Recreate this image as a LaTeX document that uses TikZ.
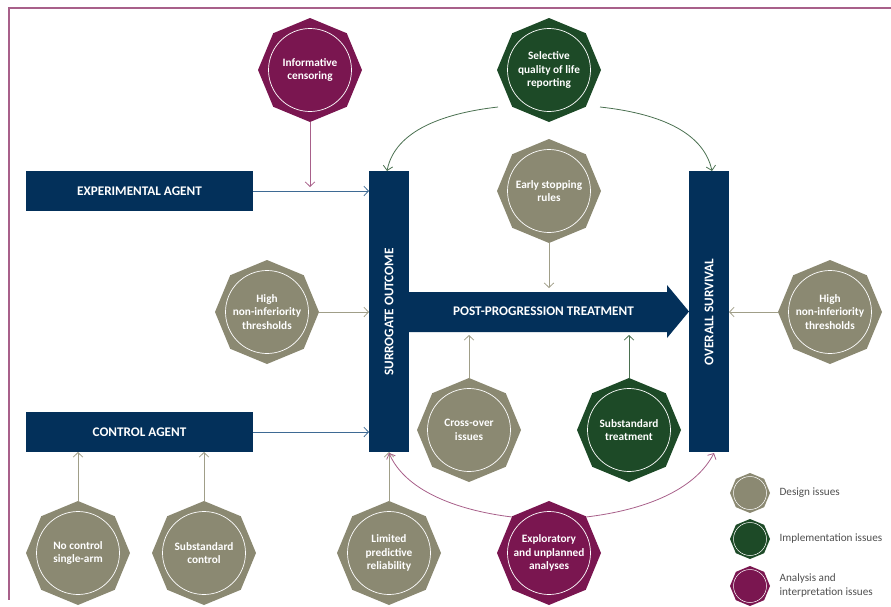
\documentclass[tikz,border=0pt]{standalone}
\usepackage{fontspec}
\setmainfont{Carlito}
\usetikzlibrary{arrows.meta,shapes.geometric}
\definecolor{navy}{HTML}{03305A}
\definecolor{khaki}{HTML}{8B8972}
\definecolor{forest}{HTML}{1D4A27}
\definecolor{plum}{HTML}{7A1650}
\definecolor{khakiline}{HTML}{A09E88}
\definecolor{navyline}{HTML}{3E6A94}
\definecolor{plumline}{HTML}{A8608A}
\definecolor{forestline}{HTML}{4A7050}
\definecolor{legendtext}{HTML}{4F4F4F}
\tikzset{
  octa/.style={shape=regular polygon,regular polygon sides=8,shape border rotate=22.5,minimum size=104pt,inner sep=0pt,outer sep=0pt,fill=#1,draw=none},
  ring/.style={circle,draw=white,line width=0.7pt,minimum size=83pt,inner sep=0pt,align=center,text=white,font=\fontsize{11.3}{13.5}\selectfont\bfseries},
  legocta/.style={shape=regular polygon,regular polygon sides=8,shape border rotate=22.5,minimum size=40pt,inner sep=0pt,outer sep=0pt,fill=#1,draw=none},
  legring/.style={circle,draw=white,line width=0.5pt,minimum size=33pt,inner sep=0pt},
  legtext/.style={anchor=west,align=left,text=legendtext,font=\fontsize{11.2}{14}\selectfont},
  navybox/.style={fill=navy,draw=none,inner sep=0pt,outer sep=0pt,text=white,font=\fontsize{13.2}{15}\selectfont\bfseries},
  conn/.style={line width=0.8pt,-{Straight Barb[length=4.5pt,width=9.5pt,line width=0.8pt]},draw=#1}
}
\newcommand{\octnode}[5]{%
  \node[octa=#4] (#1) at (#2,#3) {};
  \node[ring] (#1-r) at (#2,#3) {#5};
}
\newcommand{\legnode}[5]{%
  \node[legocta=#4] (#1) at (#2,#3) {};
  \node[legring] (#1-r) at (#2,#3) {};
  \node[legtext] (#1-t) at (#2+26,#3) {#5};
}
\begin{document}
\begin{tikzpicture}[x=1pt,y=-1pt]
\useasboundingbox (0,0) rectangle (891,606);
\coordinate (frameA) at (891,8);
\coordinate (frameB) at (9,8);
\coordinate (frameC) at (9,600);
\draw[plumline,line width=1.2pt] (frameA) -- (frameB) -- (frameC);

\node[navybox,minimum width=227pt,minimum height=40pt] (exp) at (139.5,191) {EXPERIMENTAL AGENT};
\node[navybox,minimum width=227pt,minimum height=40pt] (ctl) at (139.5,432) {CONTROL AGENT};
\node[navybox,minimum width=40pt,minimum height=281pt] (sur) at (389,311.5) {};
\node[navybox,minimum width=40pt,minimum height=281pt] (ovs) at (709,311.5) {};
\node[rotate=90,text=white,font=\fontsize{13.2}{15}\selectfont\bfseries] (surt) at (389,312) {SURROGATE OUTCOME};
\node[rotate=90,text=white,font=\fontsize{13.2}{15}\selectfont\bfseries] (ovst) at (709,312) {OVERALL SURVIVAL};

\fill[navy] (409,292) -- (667,292) -- (667,285) -- (689,311.5) -- (667,338) -- (667,332) -- (409,332) -- cycle;
\node[text=white,font=\fontsize{13.2}{15}\selectfont\bfseries] (ppt) at (543.5,311) {POST-PROGRESSION TREATMENT};

\octnode{inf}{310}{70}{plum}{Informative\\censoring}
\octnode{sel}{549}{70}{forest}{Selective\\quality of life\\reporting}
\octnode{early}{549}{191}{khaki}{Early stopping\\rules}
\octnode{hl}{267}{312}{khaki}{High\\non-inferiority\\thresholds}
\octnode{hr}{830}{312}{khaki}{High\\non-inferiority\\thresholds}
\octnode{cross}{469}{430}{khaki}{Cross-over\\issues}
\octnode{subt}{629}{430}{forest}{Substandard\\treatment}
\octnode{noc}{78}{553}{khaki}{No control\\single-arm}
\octnode{subc}{204}{553}{khaki}{Substandard\\control}
\octnode{lim}{389}{553}{khaki}{Limited\\predictive\\reliability}
\octnode{expl}{549}{553}{plum}{Exploratory\\and unplanned\\analyses}

\legnode{ld}{750}{493}{khaki}{Design issues}
\legnode{li}{750}{539}{forest}{Implementation issues}
\legnode{la}{750}{586}{plum}{Analysis and\\interpretation issues}

\coordinate (infend) at (310,187);
\coordinate (earlyend) at (549,288);
\coordinate (crossend) at (469,335);
\coordinate (subtend) at (629,335);
\coordinate (surtopl) at (387,171);
\coordinate (ovstop) at (712,171);
\coordinate (surbot) at (389,453);
\coordinate (ovsbot) at (714,453);
\coordinate (selL) at (498,107);
\coordinate (selR) at (600,107);
\coordinate (explL) at (512,517);
\coordinate (explR) at (586,517);

\draw[conn=navyline] (exp.east) -- (exp.east -| sur.west);
\draw[conn=navyline] (ctl.east) -- (ctl.east -| sur.west);
\draw[conn=plumline] (inf.south) -- (infend);
\draw[conn=khakiline] (early.south) -- (earlyend);
\draw[conn=khakiline] (hl.east) -- (hl.east -| sur.west);
\draw[conn=khakiline] (hr.west) -- (hr.west -| ovs.east);
\draw[conn=khakiline] (cross.north) -- (crossend);
\draw[conn=forestline] (subt.north) -- (subtend);
\draw[conn=khakiline] (noc.north) -- (noc.north |- ctl.south);
\draw[conn=khakiline] (subc.north) -- (subc.north |- ctl.south);
\draw[conn=khakiline] (lim.north) -- (lim.north |- sur.south);
\draw[conn=forestline] (selL) .. controls (445,113) and (395,130) .. (surtopl);
\draw[conn=forestline] (selR) .. controls (655,113) and (703,130) .. (ovstop);
\draw[conn=plumline] (explL) .. controls (455,510) and (405,490) .. (surbot);
\draw[conn=plumline] (explR) .. controls (645,510) and (695,490) .. (ovsbot);
\end{tikzpicture}
\end{document}
